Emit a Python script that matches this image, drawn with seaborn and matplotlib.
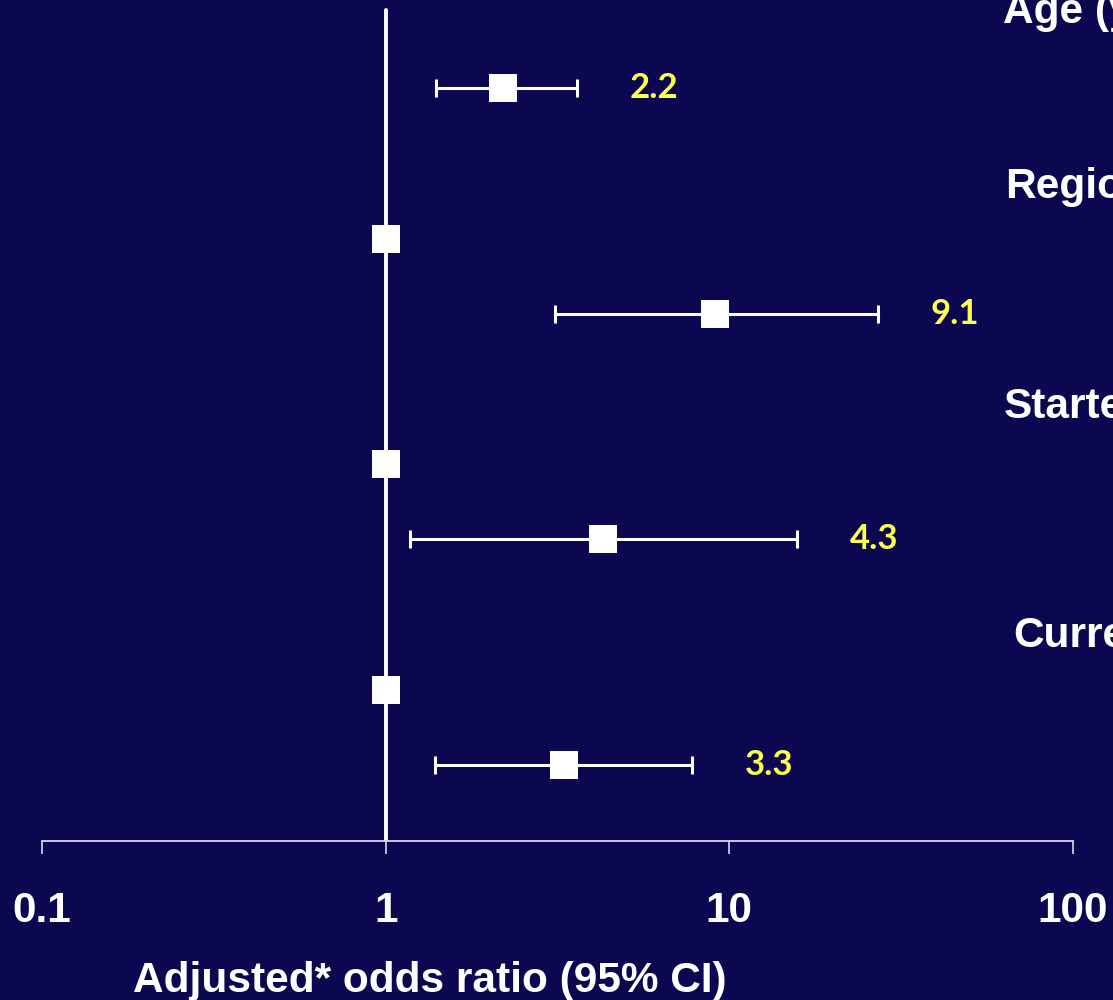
import matplotlib
matplotlib.use("Agg")
import matplotlib.pyplot as plt
import seaborn as sns
import pandas as pd
import numpy as np

# Forest plot data: odds ratios with 95% confidence intervals
rows = ["age", "region_ref", "region", "started_ref", "started", "current_ref", "current"]
row_pos = [1, 3, 4, 6, 7, 9, 10]
odds_ratio = [2.2, 1.0, 9.1, 1.0, 4.3, 1.0, 3.3]
ci_low = [1.4, np.nan, 3.1, np.nan, 1.18, np.nan, 1.39]
ci_high = [3.6, np.nan, 27.0, np.nan, 15.7, np.nan, 7.8]
value_labels = ["2.2", "", "9.1", "", "4.3", "", "3.3"]

group_titles = ["Age (years)", "Region", "Started", "Current"]
group_title_xy = [(0.9012, 0.977), (0.903, 0.802), (0.902, 0.582), (0.910, 0.353)]

tick_values = [0.1, 1, 10, 100]
tick_labels = ["0.1", "1", "10", "100"]
x_title = "Adjusted* odds ratio (95% CI)"

BG = "#0b0750"
WHITE = "#ffffff"
YELLOW = "#ffff50"
AXIS = "#d8d8e8"

sns.set_theme(style="white")
plt.rcParams["font.family"] = ["Liberation Sans", "DejaVu Sans"]

df = pd.DataFrame({"row": rows, "pos": row_pos, "or": odds_ratio,
                   "lo": ci_low, "hi": ci_high, "label": value_labels})

fig = plt.figure(figsize=(11.13, 10.0), dpi=100, facecolor=BG)
ax = fig.add_axes([42 / 1113, 1 - 841 / 1000, (1073 - 42) / 1113, 841 / 1000])
ax.set_facecolor(BG)
ax.set_xscale("log")
ax.set_xlim(0.1, 100)
ax.set_ylim(11.01, -0.173)

# reference line at OR = 1
ax.axvline(1, ymin=0, ymax=1 - 10 / 841, color=WHITE, lw=2.8, zorder=2)

# confidence intervals
ci = df.dropna(subset=["lo", "hi"])
ax.errorbar(ci["or"], ci["pos"],
            xerr=[ci["or"] - ci["lo"], ci["hi"] - ci["or"]],
            fmt="none", ecolor=WHITE, elinewidth=2.2, capsize=6.5,
            capthick=2.2, zorder=3)

# point estimates
sns.scatterplot(data=df, x="or", y="pos", marker="s", s=19.5 ** 2, color=WHITE,
                edgecolor=WHITE, linewidth=0, ax=ax, zorder=4, legend=False)

# value labels next to each interval
for _, r in ci.iterrows():
    ax.annotate(r["label"], xy=(r["hi"], r["pos"]), xytext=(38, 0),
                textcoords="offset points", ha="left", va="center",
                color=YELLOW, fontsize=25, fontweight="bold",
                family=["Lato", "DejaVu Sans"])

# axis styling
for side in ["top", "right", "left"]:
    ax.spines[side].set_visible(False)
ax.spines["bottom"].set_color(AXIS)
ax.spines["bottom"].set_linewidth(1.3)
ax.set_yticks([])
ax.set_xticks(tick_values)
ax.set_xticklabels(tick_labels)
ax.minorticks_off()
ax.tick_params(axis="x", which="major", bottom=True, direction="out",
               length=9, width=1.2, color=AXIS, pad=27, labelsize=30.5,
               labelcolor=WHITE)
for t in ax.get_xticklabels():
    t.set_fontweight("bold")
ax.set_xlabel("")
ax.set_ylabel("")

fig.text(430 / 1113, 0.008, x_title, ha="center", va="baseline",
         color=WHITE, fontsize=30.5, fontweight="bold")

for title, (tx, ty) in zip(group_titles, group_title_xy):
    fig.text(tx, ty, title, ha="left", va="baseline", color=WHITE,
             fontsize=30.5, fontweight="bold")

fig.savefig("out.png", dpi=100, facecolor=BG)
